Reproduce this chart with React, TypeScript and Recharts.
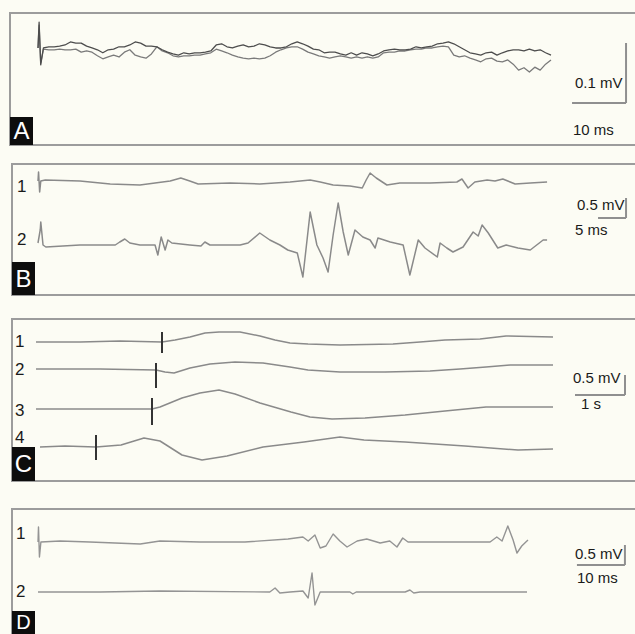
import React from 'react';
import { LineChart, Line, XAxis, YAxis, ReferenceLine } from 'recharts';

type P = [number, number];

// ---------- Panel A: two superimposed traces (time ms, amplitude µV) ----------
const A_TRACE_1: P[] = [
  [0, 0], [0.2, 43], [0.5, -28], [1, 0], [2, 2], [3, 2], [4, 3], [5, 5], [6, 10], [7, 8], [8, 8], [9, 3], [10, 0],
  [11, -3], [12, -8], [13, -3], [14, -2], [15, 2], [16, 2], [17, 5], [18, 10], [19, 8], [20, 3], [21, 3], [22, 2],
  [23, -3], [24, -7], [25, -10], [26, -12], [27, -8], [28, -10], [29, -8], [30, -8], [31, -7], [32, -5], [33, 5],
  [34, 7], [35, 2], [36, 0], [37, 3], [38, 5], [39, 2], [40, 3], [41, 7], [42, 5], [43, 2], [44, 0], [45, 0], [46, 2],
  [47, 7], [48, 10], [49, 7], [50, 3], [51, -2], [52, -3], [53, -8], [54, -7], [55, -7], [56, -10], [57, -12],
  [58, -8], [59, -12], [60, -8], [61, -10], [62, -13], [63, -10], [64, -5], [65, -3], [66, -2], [67, -3], [68, -3],
  [69, -2], [70, 2], [71, 0], [72, 2], [73, 3], [74, 7], [75, 8], [76, 10], [77, 7], [78, 2], [79, -3], [80, -8],
  [81, -10], [82, -12], [83, -8], [84, -7], [85, -12], [86, -8], [87, -5], [88, -3], [89, -3], [90, -5], [91, -2],
  [92, -5], [93, -3], [94, -8], [95, -12],
];
const A_TRACE_2: P[] = [
  [0, 0], [0.2, 38], [0.5, -25], [1, -2], [2, -3], [3, -3], [4, -2], [5, -3], [6, -3], [7, -2], [8, -7], [9, -5],
  [10, -7], [11, -13], [12, -18], [13, -15], [14, -12], [15, -15], [16, -7], [17, -3], [18, -12], [19, -15],
  [20, -17], [21, -10], [22, 2], [23, -5], [24, -8], [25, -13], [26, -15], [27, -13], [28, -13], [29, -12],
  [30, -12], [31, -10], [32, -8], [33, -2], [34, -5], [35, -8], [36, -12], [37, -15], [38, -17], [39, -18],
  [40, -17], [41, -18], [42, -17], [43, -13], [44, -7], [45, -3], [46, 0], [47, 2], [48, 2], [49, -2], [50, -7],
  [51, -10], [52, -13], [53, -15], [54, -17], [55, -15], [56, -13], [57, -15], [58, -17], [59, -15], [60, -17],
  [61, -15], [62, -17], [63, -15], [64, -8], [65, -7], [66, -7], [67, -5], [68, -5], [69, -3], [70, -2], [71, -2],
  [72, 0], [73, 0], [74, 2], [75, 3], [76, 2], [77, -12], [78, -15], [79, -13], [80, -17], [81, -20], [82, -23],
  [83, -18], [84, -17], [85, -22], [86, -23], [87, -20], [88, -27], [89, -37], [90, -33], [91, -40], [92, -32],
  [93, -37], [94, -27], [95, -20],
];

// ---------- Panel B: traces 1 and 2 (time ms, amplitude mV) ----------
const B_TRACE_1: P[] = [
  [0, 0], [0.1, 0.225], [0.3, -0.275], [0.5, 0], [1.3, 0.025], [7.5, 0], [12.9, -0.075], [18.2, -0.1],
  [20.9, -0.05], [23.6, 0], [25.5, 0.075], [27.1, 0], [28.6, -0.075], [34.3, -0.05], [39.6, -0.075],
  [45, -0.025], [46.8, 0], [48.6, 0.025], [50.4, -0.025], [52.7, -0.1], [55.7, -0.125], [57.9, -0.175],
  [58.6, 0.025], [59.3, 0.2], [60.4, 0.075], [62.3, -0.1], [64.6, -0.05], [70, -0.05], [74.8, -0.025],
  [75.7, 0.05], [76.8, -0.175], [78, -0.025], [80.2, 0.025], [81.6, 0], [83, 0.05], [85.2, -0.075],
  [87.9, -0.05], [90.9, -0.025],
];
const B_TRACE_2: P[] = [
  [0, 0.05], [0.4, 0.375], [0.5, 0.575], [0.9, 0], [1.4, -0.05], [7.5, 0], [13.8, 0], [14.6, 0.075],
  [15.5, 0.15], [16.4, 0.05], [18.2, 0], [20.9, 0], [21.4, -0.25], [22, 0.2], [22.7, -0.125], [23.2, 0.125],
  [23.9, 0.05], [27.1, 0], [29.1, -0.025], [29.8, 0.075], [30.7, 0], [36.1, 0], [37.5, 0.05], [39.6, 0.3],
  [41.4, 0.125], [43.2, 0], [44.6, -0.125], [46.3, -0.2], [47.3, -0.8], [48.6, 0.825], [49.8, 0],
  [50.9, -0.325], [51.8, -0.675], [52.7, 0.25], [53.6, 1.05], [54.5, 0.325], [55.4, -0.25], [56.6, 0.375],
  [58, 0.2], [59.3, 0.125], [60.2, -0.075], [60.7, 0.175], [62.9, 0.075], [65.2, 0], [66.4, -0.75],
  [67.9, 0.125], [69.1, -0.075], [71.3, -0.3], [71.8, 0.05], [73, -0.075], [74.1, -0.175], [75.9, -0.05],
  [77.7, 0.325], [78.6, 0.225], [79.3, 0.5], [80.4, 0.3], [82.1, -0.075], [83.6, 0], [85.7, -0.075],
  [87.9, -0.125], [90.2, 0.125], [90.9, 0.125],
];

// ---------- Panel C: traces 1-4 (time s, amplitude mV) ----------
const C_TRACE_1: P[] = [
  [0, 0], [0.88, 0], [1.68, 0.025], [2.52, 0], [2.78, 0.05], [3.08, 0.125], [3.38, 0.225], [3.66, 0.25],
  [4.08, 0.25], [4.48, 0.15], [4.78, 0.05], [5.08, -0.025], [5.44, -0.05], [6.08, -0.075], [7.14, -0.05],
  [7.68, 0], [8.18, 0.05], [8.88, 0.075], [9.4, 0.15], [10.34, 0.125],
];
const C_TRACE_2: P[] = [
  [0, 0], [1.28, 0], [2.4, -0.025], [2.58, -0.075], [2.76, -0.1], [3.08, 0.025], [3.48, 0.125], [3.98, 0.175],
  [4.54, 0.15], [5.08, 0.05], [5.44, -0.025], [6.08, -0.075], [6.98, -0.075], [7.88, -0.05], [8.48, 0],
  [9, 0.05], [9.48, 0.1], [10.34, 0.1],
];
const C_TRACE_3: P[] = [
  [0, 0], [1.28, 0], [2.32, 0], [2.48, 0.05], [2.92, 0.275], [3.28, 0.4], [3.66, 0.475], [3.98, 0.375],
  [4.48, 0.15], [5.1, -0.075], [5.48, -0.2], [5.92, -0.25], [6.58, -0.225], [7.38, -0.15], [8.18, -0.05],
  [9, 0.05], [10.34, 0.05],
];
const C_TRACE_4: P[] = [
  [0.08, 0], [0.58, 0.025], [1.2, 0], [1.7, 0.05], [2.16, 0.225], [2.48, 0.15], [2.92, -0.2], [3.32, -0.325],
  [3.82, -0.225], [4.54, 0], [5.36, 0.125], [6.08, 0.25], [6.56, 0.175], [7.38, 0.125], [8.58, 0.025],
  [9.64, -0.075], [10.34, -0.05],
];
// stimulus markers: [time s, low mV, high mV]
const C_STIMULI: [number, number, number][] = [
  [2.52, -0.275, 0.25],
  [2.4, -0.475, 0.15],
  [2.32, -0.4, 0.275],
  [1.2, -0.325, 0.3],
];

// ---------- Panel D: traces 1 and 2 (time ms, amplitude mV) ----------
const D_TRACE_1: P[] = [
  [0, 0], [0.1, 0.375], [0.3, -0.375], [0.6, 0], [4.6, 0.025], [10.8, 0], [21.3, -0.05], [25.4, 0.025],
  [33.8, 0], [43.1, 0], [52.1, 0.075], [55.2, 0.125], [56.3, 0.025], [57.7, 0.175], [58.8, -0.15], [60, -0.1],
  [61.5, 0.2], [62.9, 0.025], [64.4, -0.125], [66.5, 0.025], [68.5, 0.075], [71.3, -0.025], [73.3, 0.025],
  [74.8, -0.125], [76, 0.1], [77.1, 0], [79, 0], [83.8, 0], [94.2, 0], [95.6, 0.125], [96.7, 0.025],
  [97.9, 0.4], [99, 0.05], [99.8, -0.275], [100.8, -0.1], [102.1, 0.05],
];
const D_TRACE_2: P[] = [
  [0, 0], [12.9, 0], [25.4, 0.025], [48.3, 0], [49.4, 0.1], [50.4, -0.025], [52.5, 0], [55.2, 0.025],
  [56.3, -0.15], [57.1, 0.475], [57.7, -0.325], [58.8, 0], [65, 0], [65.6, -0.05], [66.3, 0], [76.5, 0],
  [77.5, 0.05], [78.3, -0.025], [79.6, 0], [101.9, 0],
];

// scale bars: [time length, amplitude length]
const SCALE_A = { dt: 10, dv: 100, tLabel: '10 ms', vLabel: '0.1 mV' };
const SCALE_B = { dt: 5, dv: 0.5, tLabel: '5 ms', vLabel: '0.5 mV' };
const SCALE_C = { dt: 1, dv: 0.5, tLabel: '1 s', vLabel: '0.5 mV' };
const SCALE_D = { dt: 10, dv: 0.5, tLabel: '10 ms', vLabel: '0.5 mV' };

const toRows = (arr: P[]) => arr.map(([t, v]) => ({ t, v }));

type Trace = { data: P[]; axis: string; color: string; width: number };
type Seg = { axis: string; p1: [number, number]; p2: [number, number]; color: string; width: number };

function Panel(props: {
  left: number; top: number; width: number; height: number;
  xDomain: [number, number]; axes: { id: string; domain: [number, number] }[];
  traces: Trace[]; segs: Seg[];
}) {
  const { left, top, width, height, xDomain, axes, traces, segs } = props;
  return (
    <div style={{ position: 'absolute', left, top, width, height }}>
      <LineChart width={width} height={height} margin={{ top: 0, right: 0, bottom: 0, left: 0 }}>
        <XAxis type="number" dataKey="t" domain={xDomain} allowDataOverflow hide />
        {axes.map((a) => (
          <YAxis key={a.id} yAxisId={a.id} type="number" domain={a.domain} allowDataOverflow hide />
        ))}
        {traces.map((tr, i) => (
          <Line
            key={i}
            yAxisId={tr.axis}
            data={toRows(tr.data)}
            dataKey="v"
            type="linear"
            stroke={tr.color}
            strokeWidth={tr.width}
            strokeLinejoin="round"
            dot={false}
            activeDot={false}
            isAnimationActive={false}
          />
        ))}
        {segs.map((s, i) => (
          <ReferenceLine
            key={'s' + i}
            yAxisId={s.axis}
            segment={[{ x: s.p1[0], y: s.p1[1] }, { x: s.p2[0], y: s.p2[1] }]}
            stroke={s.color}
            strokeWidth={s.width}
            ifOverflow="visible"
          />
        ))}
      </LineChart>
    </div>
  );
}

const FONT = '"Liberation Sans", Arial, Helvetica, sans-serif';
const BAR = '#8f8f8f';

function scaleSegs(axis: string, t0: number, v0: number, s: { dt: number; dv: number }): Seg[] {
  return [
    { axis, p1: [t0, v0], p2: [t0 + s.dt, v0], color: BAR, width: 2 },
    { axis, p1: [t0 + s.dt, v0], p2: [t0 + s.dt, v0 + s.dv], color: BAR, width: 2 },
  ];
}

function Txt(props: { x: number; cy: number; size: number; children: React.ReactNode; color?: string }) {
  return (
    <div
      style={{
        position: 'absolute', left: props.x, top: props.cy - props.size / 2, fontSize: props.size,
        lineHeight: 1, fontFamily: FONT, color: props.color || '#1a1a1a', whiteSpace: 'nowrap',
      }}
    >
      {props.children}
    </div>
  );
}

function Letter(props: { x: number; y: number; w: number; h: number; ch: string; size?: number }) {
  return (
    <div
      style={{
        position: 'absolute', left: props.x, top: props.y, width: props.w, height: props.h, background: '#0d0d0d',
        color: '#fff', fontFamily: FONT, fontSize: props.size || 24, lineHeight: props.h + 'px', textAlign: 'center',
        overflow: 'hidden',
      }}
    >
      {props.ch}
    </div>
  );
}

function Border(props: { x: number; y: number; h: number }) {
  return (
    <div
      style={{
        position: 'absolute', left: props.x, top: props.y, width: 700, height: props.h, boxSizing: 'border-box',
        border: '2px solid #9c9c9c',
      }}
    />
  );
}

export default function App() {
  const TR = '#8a8a8a';
  return (
    <div
      style={{
        position: 'fixed', left: 0, top: 0, width: 635, height: 634, overflow: 'hidden', background: '#fcfcf4',
        fontFamily: FONT,
      }}
    >
      <Border x={9} y={12} h={134} />
      <Border x={11} y={163} h={133} />
      <Border x={11} y={318} h={164} />
      <Border x={11} y={508} h={200} />

      {/* Panel A */}
      <Panel
        left={10} top={13} width={625} height={132}
        xDomain={[-5.19, 110.56]}
        axes={[{ id: 'a', domain: [-161.7, 58.3] }]}
        traces={[
          { data: A_TRACE_2, axis: 'a', color: '#7a7a7a', width: 1.3 },
          { data: A_TRACE_1, axis: 'a', color: '#4d4d4d', width: 1.3 },
        ]}
        segs={scaleSegs('a', 98.9, -91.7, SCALE_A)}
      />
      {/* Panel B */}
      <Panel
        left={12} top={164} width={623} height={131}
        xDomain={[-4.64, 106.6]}
        axes={[{ id: 'b1', domain: [-2.85, 0.425] }, { id: 'b2', domain: [-1.25, 2.025] }]}
        traces={[
          { data: B_TRACE_1, axis: 'b1', color: TR, width: 1.5 },
          { data: B_TRACE_2, axis: 'b2', color: TR, width: 1.5 },
        ]}
        segs={scaleSegs('b1', 100, -0.925, SCALE_B)}
      />
      {/* Panel C */}
      <Panel
        left={12} top={319} width={623} height={162}
        xDomain={[-0.48, 11.98]}
        axes={[
          { id: 'c1', domain: [-3.475, 0.575] },
          { id: 'c2', domain: [-2.8, 1.25] },
          { id: 'c3', domain: [-1.8, 2.25] },
          { id: 'c4', domain: [-0.85, 3.2] },
        ]}
        traces={[
          { data: C_TRACE_1, axis: 'c1', color: TR, width: 1.5 },
          { data: C_TRACE_2, axis: 'c2', color: TR, width: 1.5 },
          { data: C_TRACE_3, axis: 'c3', color: TR, width: 1.5 },
          { data: C_TRACE_4, axis: 'c4', color: TR, width: 1.5 },
        ]}
        segs={[
          ...C_STIMULI.map((s, i) => ({
            axis: 'c' + (i + 1), p1: [s[0], s[1]] as [number, number], p2: [s[0], s[2]] as [number, number],
            color: '#333', width: 2,
          })),
          ...scaleSegs('c2', 10.78, -0.65, SCALE_C),
        ]}
      />
      {/* Panel D */}
      <Panel
        left={12} top={509} width={623} height={125}
        xDomain={[-5.42, 124.4]}
        axes={[{ id: 'd1', domain: [-2.3, 0.825] }, { id: 'd2', domain: [-1.05, 2.075] }]}
        traces={[
          { data: D_TRACE_1, axis: 'd1', color: '#949494', width: 1.4 },
          { data: D_TRACE_2, axis: 'd2', color: '#949494', width: 1.4 },
        ]}
        segs={scaleSegs('d1', 112.3, -0.575, SCALE_D)}
      />

      {/* scale labels */}
      <Txt x={575} cy={82} size={15}>{SCALE_A.vLabel}</Txt>
      <Txt x={573} cy={129} size={15}>{SCALE_A.tLabel}</Txt>
      <Txt x={577} cy={204} size={15}>{SCALE_B.vLabel}</Txt>
      <Txt x={575} cy={229} size={15}>{SCALE_B.tLabel}</Txt>
      <Txt x={573} cy={377} size={15}>{SCALE_C.vLabel}</Txt>
      <Txt x={581} cy={403} size={15}>{SCALE_C.tLabel}</Txt>
      <Txt x={575} cy={553} size={15}>{SCALE_D.vLabel}</Txt>
      <Txt x={577} cy={577} size={15}>{SCALE_D.tLabel}</Txt>

      {/* trace numbers */}
      <Txt x={17} cy={186} size={17}>1</Txt>
      <Txt x={17} cy={239} size={17}>2</Txt>
      <Txt x={15} cy={341} size={17}>1</Txt>
      <Txt x={15} cy={369} size={17}>2</Txt>
      <Txt x={15} cy={410} size={17}>3</Txt>
      <Txt x={15} cy={437} size={17}>4</Txt>
      <Txt x={16} cy={533} size={17}>1</Txt>
      <Txt x={16} cy={591} size={17}>2</Txt>

      <Letter x={10} y={117} w={23} h={28} ch="A" />
      <Letter x={12} y={262} w={23} h={33} ch="B" />
      <Letter x={12} y={447} w={23} h={34} ch="C" />
      <Letter x={12} y={611} w={23} h={23} ch="D" size={20} />
    </div>
  );
}
